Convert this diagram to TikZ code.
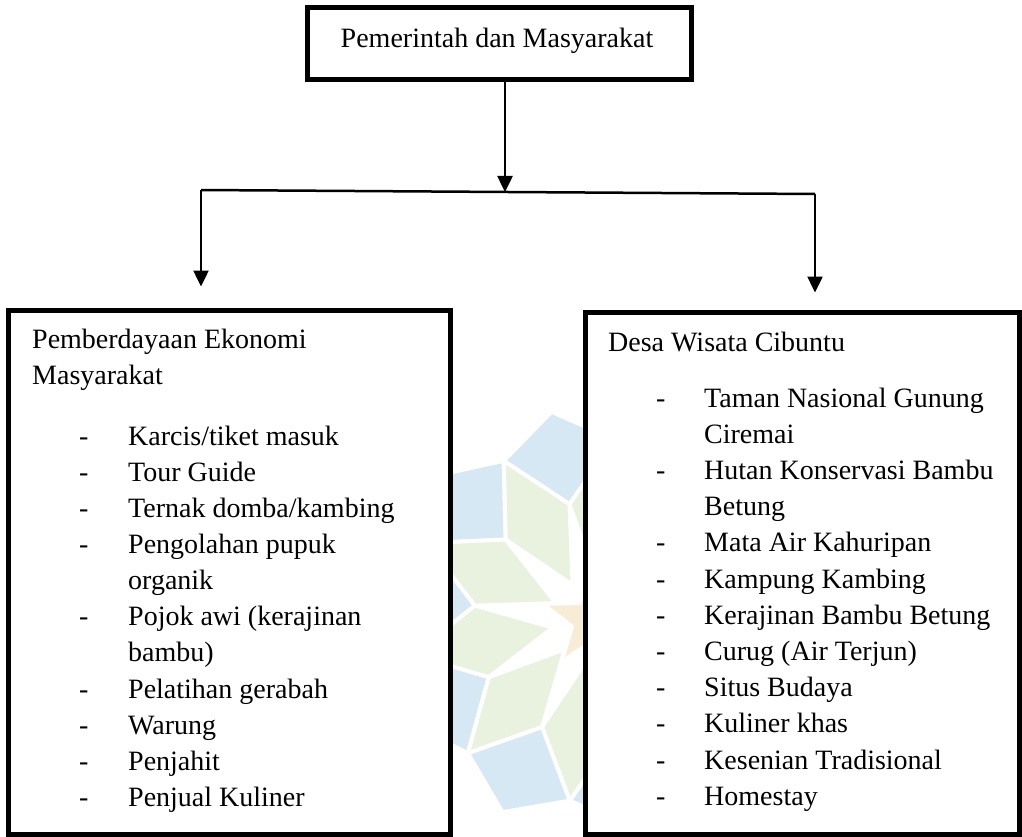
\documentclass[tikz,border=0pt]{standalone}
\usepackage{fontspec}
\setmainfont{Liberation Serif}
\usetikzlibrary{arrows.meta}
\definecolor{wmblue}{RGB}{215,232,245}
\definecolor{wmgreen}{RGB}{232,242,222}
\definecolor{wmyellow}{RGB}{248,236,214}
\tikzset{
  box/.style={draw=black, line width=5pt, fill=white, rectangle, inner sep=0pt},
  txt/.style={anchor=base west, inner sep=0pt, font=\fontsize{28}{36}\selectfont},
  conn/.style={draw=black, line width=2.5pt},
  arr/.style={conn, -{Triangle[width=15pt,length=16pt]}},
  tile/.style={draw=white, line width=4pt, line join=round},
}
\begin{document}
\begin{tikzpicture}[x=1pt,y=-1pt]
\useasboundingbox (0,0) rectangle (1022,837);
% watermark
\begin{scope}[shift={(592,620)}, y=1pt]
  \foreach \a in {11,47,83,119,155,191,227,263,299,335}{
    \filldraw[tile, fill=wmblue] ({\a+18}:118) -- ({\a}:182) -- ({\a+18}:212) -- ({\a+36}:182) -- cycle;
    \filldraw[tile, fill=wmgreen] ({\a}:40) -- ({\a-18}:118) -- ({\a}:182) -- ({\a+18}:118) -- cycle;
  }
  \filldraw[tile, fill=wmyellow] (90:52) -- (126:21) -- (162:52) -- (198:21) -- (234:52) -- (270:21) -- (306:52) -- (342:21) -- (18:52) -- (54:21) -- cycle;
\end{scope}
% boxes
\node[box, minimum width=384pt, minimum height=72pt] (top) at (499,44) {};
\node[box, minimum width=442pt, minimum height=524pt] (left) at (229,572) {};
\node[box, minimum width=434pt, minimum height=522pt] (right) at (802,573) {};
% top text
\node[txt, anchor=base] (toptxt) at (497,48) {Pemerintah dan Masyarakat};
% connectors
\coordinate (j) at (505,192);
\coordinate (jl) at (201,190);
\coordinate (jr) at (815,194);
\draw[conn] (jl) -- (jr);
\draw[arr] (top.south -| j) -- (j);
\draw[arr, shorten >=21pt] (jl) -- (jl |- left.north);
\draw[arr, shorten >=17pt] (jr) -- (jr |- right.north);
% left box text
\node[txt] (lh1) at (32,348) {Pemberdayaan Ekonomi};
\node[txt] (lh2) at (32,384.5) {Masyarakat};
\foreach \t/\d [count=\i] in {
  {Karcis/tiket masuk}/1,{Tour Guide}/1,{Ternak domba/kambing}/1,{Pengolahan pupuk}/1,{organik}/0,
  {Pojok awi (kerajinan}/1,{bambu)}/0,{Pelatihan gerabah}/1,{Warung}/1,{Penjahit}/1,{Penjual Kuliner}/1}{
  \node[txt] (li\i) at (128,{445+(\i-1)*36.15}) {\t};
  \ifnum\d=1 \node[txt] (ld\i) at (79,{445+(\i-1)*36.15}) {-};\fi
}
% right box text
\node[txt] (rh1) at (608,351) {Desa Wisata Cibuntu};
\foreach \t/\d [count=\i] in {
  {Taman Nasional Gunung}/1,{Ciremai}/0,{Hutan Konservasi Bambu}/1,{Betung}/0,{Mata Air Kahuripan}/1,
  {Kampung Kambing}/1,{Kerajinan Bambu Betung}/1,{Curug (Air Terjun)}/1,{Situs Budaya}/1,
  {Kuliner khas}/1,{Kesenian Tradisional}/1,{Homestay}/1}{
  \node[txt] (ri\i) at (704,{407+(\i-1)*36.2}) {\t};
  \ifnum\d=1 \node[txt] (rd\i) at (656,{407+(\i-1)*36.2}) {-};\fi
}
\end{tikzpicture}
\end{document}
